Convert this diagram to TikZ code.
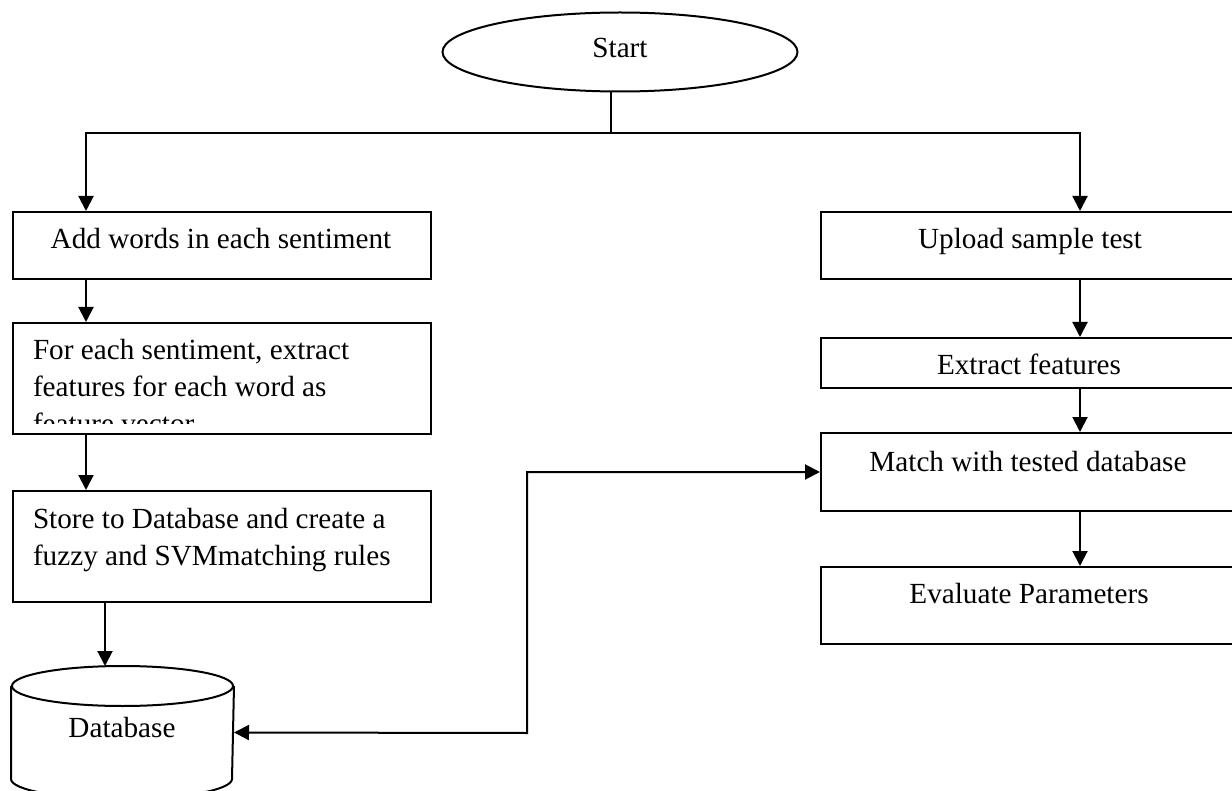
\documentclass[tikz,border=0pt]{standalone}
\usepackage{fontspec}
\setmainfont{Liberation Serif}
\usetikzlibrary{shapes.geometric,arrows.meta}

\begin{document}
\begin{tikzpicture}[x=0.5pt,y=-0.5pt,line width=1pt,
  every node/.style={font=\fontsize{14.6}{18.5}\selectfont},
  box/.style={draw,rectangle,inner sep=0pt,anchor=north west},
  txt/.style={inner sep=0pt,anchor=base},
  ltxt/.style={inner sep=0pt,anchor=base west,align=left},
  arr/.style={-{Triangle[width=7.5pt,length=7.5pt]}}]
\useasboundingbox (0,0) rectangle (1232,791);
\coordinate (lx) at (86,0);
\coordinate (dbx) at (105,0);
\coordinate (rx) at (1080,0);
\coordinate (split) at (611,133);
\node[draw,ellipse,inner sep=0pt,minimum width=177.5pt,minimum height=39.5pt] (start) at (620,52) {};
\node[txt] (starttxt) at (620,58) {Start};
% left column
\node[box,minimum width=209pt,minimum height=33.5pt] (add) at (12,211) {};
\node[txt] (addtxt) at (221,249) {Add words in each sentiment};
\node[box,minimum width=209pt,minimum height=55.5pt] (feat) at (12,322) {};
\begin{scope}
\clip (12,322) rectangle (430,423);
\node[ltxt] (feattxt) at (32,433) {For each sentiment, extract\\features for each word as\\feature vector};
\end{scope}
\node[box,minimum width=209pt,minimum height=55.5pt] (store) at (12,490) {};
\node[ltxt] (storetxt) at (32,565) {Store to Database and create a\\fuzzy and SVMmatching rules};
\node[inner sep=0pt,minimum width=110.5pt,minimum height=65.5pt] (db) at (122.5,732.5) {};
\draw ([yshift=-10pt]db.north) ellipse [x radius=55.25pt,y radius=10pt];
\draw ([yshift=-10pt]db.north west) -- ([yshift=10pt]db.south west)
  arc [start angle=180,end angle=360,x radius=55.25pt,y radius=10pt] -- ([yshift=-10pt]db.north east);
\node[txt] (dbtxt) at (122,737) {Database};
% right column
\node[box,minimum width=208pt,minimum height=33.5pt] (upload) at (820,211) {};
\node[txt] (uploadtxt) at (1030,249) {Upload sample test};
\node[box,minimum width=208pt,minimum height=25pt] (extract) at (820,337) {};
\node[txt] (extracttxt) at (1029,374) {Extract features};
\node[box,minimum width=208pt,minimum height=39pt] (match) at (820,432) {};
\node[txt] (matchtxt) at (1028,471) {Match with tested database};
\node[box,minimum width=208pt,minimum height=38.5pt] (eval) at (820,566) {};
\node[txt] (evaltxt) at (1029,603) {Evaluate Parameters};
% connectors
\draw (start.south -| split) -- (split);
\draw[arr] (split) -| (add.north -| lx);
\draw[arr] (split) -| (upload.north -| rx);
\draw[arr] (add.south -| lx) -- (feat.north -| lx);
\draw[arr] (feat.south -| lx) -- (store.north -| lx);
\draw[arr] (store.south -| dbx) -- (db.north -| dbx);
\draw[arr] (upload.south -| rx) -- (extract.north -| rx);
\draw[arr] (extract.south -| rx) -- (match.north -| rx);
\draw[arr] (match.south -| rx) -- (eval.north -| rx);
\coordinate (turn) at (527,733);
\draw[{Triangle[width=7.5pt,length=7.5pt]}-{Triangle[width=7.5pt,length=7.5pt]}] (db.east) -- (turn) |- (match.west);
\end{tikzpicture}
\end{document}
